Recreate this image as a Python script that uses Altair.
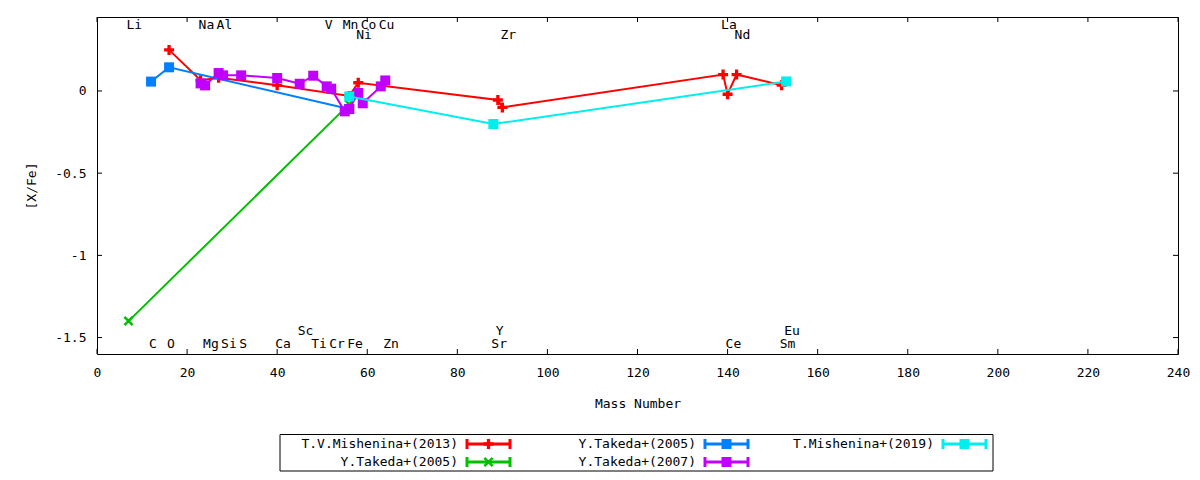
import altair as alt
import pandas as pd

FONT = "DejaVu Sans Mono"

# ---- data ----
red_mass = [16, 23, 27, 40, 56, 58, 89, 90, 139, 140, 142, 152]
red_val = [0.25, 0.065, 0.08, 0.035, -0.03, 0.05, -0.055, -0.10, 0.10, -0.02, 0.10, 0.035]

green_mass = [7, 56]
green_val = [-1.40, -0.08]

blue_mass = [12, 16, 56]
blue_val = [0.057, 0.144, -0.11]

purple_mass = [23, 24, 27, 28, 32, 40, 45, 48, 51, 52, 55, 56, 58, 59, 63, 64]
purple_val = [0.046, 0.034, 0.109, 0.095, 0.095, 0.079, 0.044, 0.093, 0.028, 0.014,
              -0.124, -0.109, -0.012, -0.075, 0.028, 0.064]

cyan_mass = [56, 88, 153]
cyan_val = [-0.033, -0.201, 0.058]

series_names = ["T.V.Mishenina+(2013)", "Y.Takeda+(2005)", "Y.Takeda+(2005)",
                "Y.Takeda+(2007)", "T.Mishenina+(2019)"]
series_ids = ["s1", "s2", "s3", "s4", "s5"]
series_colors = ["#ff0000", "#00c000", "#0080ff", "#c000ff", "#00eeee"]
legend_col = [0, 0, 1, 1, 2]
legend_row = [0, 1, 0, 1, 0]

PLUS = "M-1,-0.33H-0.33V-1H0.33V-0.33H1V0.33H0.33V1H-0.33V0.33H-1Z"
XSHAPE = "M-1,-0.65L-0.65,-1L1,0.65L0.65,1Z M0.65,-1L1,-0.65L-0.65,1L-1,0.65Z"
series_shapes = [PLUS, XSHAPE, "square", "square", "square"]

# element labels
top_names = ["Li", "Na", "Al", "V", "Mn", "Co", "Cu", "La"]
top_mass = [7, 23, 27, 51, 55, 59, 63, 139]
top2_names = ["Ni", "Zr", "Nd"]
top2_mass = [58, 90, 142]
bot2_names = ["Sc", "Y", "Eu"]
bot2_mass = [45, 89, 153]
bot_names = ["C", "O", "Mg", "Si", "S", "Ca", "Ti", "Cr", "Fe", "Zn", "Sr", "Ce", "Sm"]
bot_mass = [12, 16, 24, 28, 32, 40, 48, 52, 56, 64, 88, 140, 152]
label_rows_y = [0.40, 0.34, -1.46, -1.54]

x_ticks = [0, 20, 40, 60, 80, 100, 120, 140, 160, 180, 200, 220, 240]
y_ticks = [-1.5, -1, -0.5, 0]

W, H = 1081, 337

# ---- encodings ----
xs = alt.Scale(domain=[0, 240], nice=False, zero=False)
ys = alt.Scale(domain=[-1.6, 0.45], nice=False, zero=False)
xaxis = alt.Axis(values=x_ticks, format="d", labelPadding=12, titlePadding=18,
                 labelFlush=False)
yaxis = alt.Axis(values=y_ticks, labelExpr="toString(datum.value)", labelPadding=11,
                 titlePadding=16)


def xenc(f):
    return alt.X(f"{f}:Q", scale=xs, axis=xaxis, title="Mass Number")


def yenc(f):
    return alt.Y(f"{f}:Q", scale=ys, axis=yaxis, title="[X/Fe]")


all_mass = [red_mass, green_mass, blue_mass, purple_mass, cyan_mass]
all_val = [red_val, green_val, blue_val, purple_val, cyan_val]

layers = []

# inward ticks (all four sides)
xt = pd.DataFrame({"t": x_ticks})
yt = pd.DataFrame({"t": y_ticks})
layers.append(alt.Chart(xt).mark_rule(color="black").encode(
    x=xenc("t"), y=alt.value(H), y2=alt.value(H - 5)))
layers.append(alt.Chart(xt).mark_rule(color="black").encode(
    x=xenc("t"), y=alt.value(0), y2=alt.value(5)))
layers.append(alt.Chart(yt).mark_rule(color="black").encode(
    y=yenc("t"), x=alt.value(0), x2=alt.value(5)))
layers.append(alt.Chart(yt).mark_rule(color="black").encode(
    y=yenc("t"), x=alt.value(W), x2=alt.value(W - 5)))

# series: line then points, in plotting order
for sid, m, v, c, shp in zip(series_ids, all_mass, all_val, series_colors, series_shapes):
    df = pd.DataFrame({"mass": m, "val": v, "i": list(range(len(m)))})
    layers.append(alt.Chart(df).mark_line(color=c, strokeWidth=2).encode(
        x=xenc("mass"), y=yenc("val"), order="i:Q"))
    layers.append(alt.Chart(df).mark_point(shape=shp, filled=True, color=c, size=100,
                                           opacity=1).encode(
        x=xenc("mass"), y=yenc("val")))

# element labels
lab_rows = []
for names, masses, yv in zip([top_names, top2_names, bot2_names, bot_names],
                             [top_mass, top2_mass, bot2_mass, bot_mass], label_rows_y):
    for n, mm in zip(names, masses):
        lab_rows.append({"name": n, "mass": mm, "yv": yv})
labdf = pd.DataFrame(lab_rows)
layers.append(alt.Chart(labdf).mark_text(align="left", baseline="middle", dx=-2,
                                         font=FONT, fontSize=13, color="black").encode(
    x=xenc("mass"), y=yenc("yv"), text="name:N"))

# ---- legend box (drawn below the plot) ----
COLW = 238
leg = pd.DataFrame({"sid": series_ids, "name": series_names,
                    "col": legend_col, "row": legend_row})
leg["tx"] = 361 + COLW * leg["col"]
leg["lx1"] = 370 + COLW * leg["col"]
leg["lx2"] = 413 + COLW * leg["col"]
leg["lxm"] = (leg["lx1"] + leg["lx2"]) / 2
leg["ly"] = 427 + 18 * leg["row"]
leg["ly1"] = leg["ly"] - 5
leg["ly2"] = leg["ly"] + 5

cscale = alt.Scale(domain=series_ids, range=series_colors)
sscale = alt.Scale(domain=series_ids, range=series_shapes)
colr = alt.Color("sid:N", scale=cscale, legend=None)

box = pd.DataFrame({"x1": [183], "x2": [896], "y1": [417.5], "y2": [454]})
layers.append(alt.Chart(box).mark_rect(fillOpacity=0, stroke="black", strokeWidth=1).encode(
    x=alt.X("x1:Q", scale=None, axis=None), x2="x2:Q",
    y=alt.Y("y1:Q", scale=None, axis=None), y2="y2:Q"))
layers.append(alt.Chart(leg).mark_text(align="right", baseline="middle", font=FONT,
                                       fontSize=13, color="black").encode(
    x=alt.X("tx:Q", scale=None, axis=None), y=alt.Y("ly:Q", scale=None, axis=None),
    text="name:N"))
layers.append(alt.Chart(leg).mark_rule(strokeWidth=3).encode(
    x=alt.X("lx1:Q", scale=None, axis=None), x2="lx2:Q",
    y=alt.Y("ly:Q", scale=None, axis=None), color=colr))
layers.append(alt.Chart(leg).mark_rule(strokeWidth=3).encode(
    x=alt.X("lx1:Q", scale=None, axis=None),
    y=alt.Y("ly1:Q", scale=None, axis=None), y2="ly2:Q", color=colr))
layers.append(alt.Chart(leg).mark_rule(strokeWidth=3).encode(
    x=alt.X("lx2:Q", scale=None, axis=None),
    y=alt.Y("ly1:Q", scale=None, axis=None), y2="ly2:Q", color=colr))
layers.append(alt.Chart(leg).mark_point(filled=True, size=100, opacity=1).encode(
    x=alt.X("lxm:Q", scale=None, axis=None), y=alt.Y("ly:Q", scale=None, axis=None),
    color=colr, shape=alt.Shape("sid:N", scale=sscale, legend=None)))

chart = alt.layer(*layers).properties(
    width=W, height=H,
    autosize=alt.AutoSizeParams(type="none"),
    padding={"left": 89, "top": 9, "right": 13, "bottom": 118},
).configure_view(stroke="black", strokeWidth=1).configure_axis(
    grid=False, domain=False, ticks=False,
    labelFont=FONT, labelFontSize=13, labelColor="black",
    titleFont=FONT, titleFontSize=13, titleFontWeight="normal", titleColor="black",
)

chart.save("out.html", embed_options={"renderer": "svg", "actions": False})
